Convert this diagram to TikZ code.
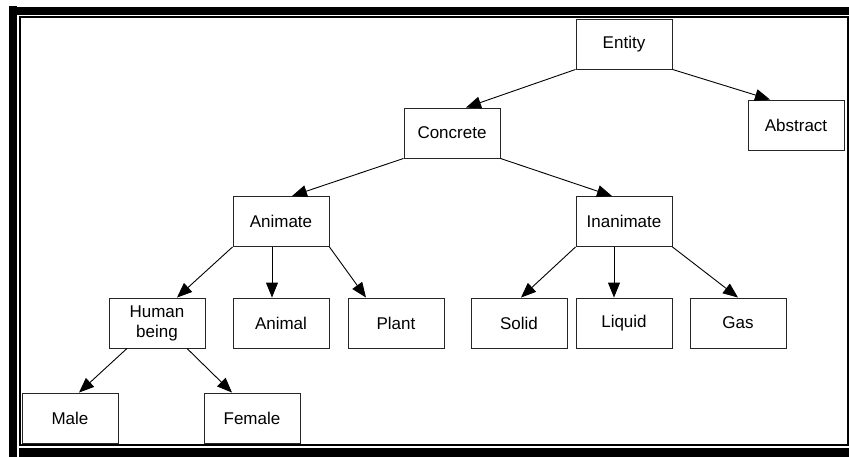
\documentclass[tikz,border=0pt]{standalone}
\usepackage{fontspec}
\setmainfont{Liberation Sans}
\usetikzlibrary{arrows.meta}
\begin{document}
\begin{tikzpicture}[x=1pt,y=-1pt,
  box/.style={draw=black!85,line width=0.9pt,fill=white,minimum width=96pt,minimum height=50pt,
    inner sep=0pt,align=center,font=\fontsize{17}{20}\selectfont},
  arr/.style={line width=0.9pt,-{Triangle[length=15pt,width=12pt]}}]
\useasboundingbox (0,0) rectangle (849,457);
% frame
\fill[black] (9,6) rectangle (17,457);
\fill[black] (9,7) rectangle (849,15);
\fill[black] (19,448) rectangle (849,457);
\draw[line width=2pt] (20,17) rectangle (848,445);
% nodes
\node[box] (entity) at (624,44) {Entity};
\node[box] (abstract) at (796,125) {Abstract};
\node[box] (concrete) at (452,133) {Concrete};
\node[box] (animate) at (281,221.5) {Animate};
\node[box] (inanimate) at (624,221.5) {Inanimate};
\node[box] (human) at (157,323) {Human\\being};
\node[box] (animal) at (281,323) {Animal};
\node[box] (plant) at (396,323) {Plant};
\node[box] (solid) at (519,323) {Solid};
\node[box] (liquid) at (624,323) {Liquid};
\node[box] (gas) at (738,323) {Gas};
\node[box] (male) at (70,418) {Male};
\node[box] (female) at (252,418) {Female};
% connectors
\draw[arr] (entity.south west) -- ([xshift=14pt]concrete.north);
\draw[arr] (entity.south east) -- ([xshift=-26pt]abstract.north);
\draw[arr] (concrete.south west) -- ([xshift=11pt]animate.north);
\draw[arr] (concrete.south east) -- ([xshift=-12pt]inanimate.north);
\draw[arr] (animate.south west) -- ([xshift=20pt]human.north);
\draw[arr] ([xshift=-9pt]animate.south) -- ([xshift=-9pt]animal.north);
\draw[arr] (animate.south east) -- ([xshift=-30pt]plant.north);
\draw[arr] (inanimate.south west) -- ([xshift=2pt]solid.north);
\draw[arr] ([xshift=-10pt]inanimate.south) -- ([xshift=-10pt]liquid.north);
\draw[arr] (inanimate.south east) -- (gas.north);
\draw[arr] ([xshift=-30pt]human.south) -- ([xshift=9pt]male.north);
\draw[arr] ([xshift=30pt]human.south) -- ([xshift=-20pt]female.north);
\end{tikzpicture}
\end{document}
